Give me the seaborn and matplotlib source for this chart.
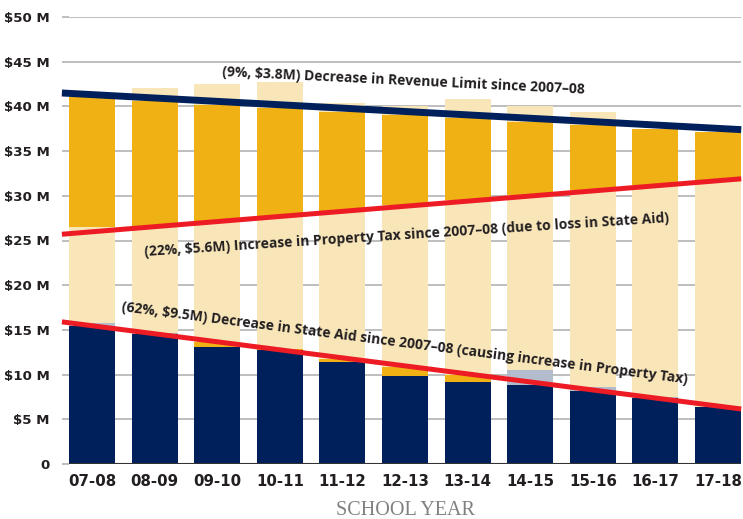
import matplotlib
matplotlib.use("Agg")
import matplotlib.pyplot as plt
import seaborn as sns

sns.set_theme(style="white")
plt.rcParams["font.family"] = ["DejaVu Sans"]

# values, in $M (cumulative tops of each stacked layer)
years = ["07-08", "08-09", "09-10", "10-11", "11-12", "12-13",
         "13-14", "14-15", "15-16", "16-17", "17-18"]
state_aid = [15.4, 14.5, 13.1, 12.7, 11.4, 9.8, 9.2, 8.8, 8.2, 7.4, 6.4]
grey_top = [15.8, 14.7, 13.1, 12.7, 11.4, 9.8, 9.2, 10.5, 8.65, 7.5, 6.4]
gold_low_top = [15.4, 14.5, 13.6, 12.9, 11.8, 10.9, 9.95, 8.8, 8.2, 7.4, 6.4]
prop_tax_top = [26.5, 26.6, 27.1, 27.7, 28.3, 29.0, 29.5, 30.1, 30.6, 31.2, 31.8]
limit_top = [41.0, 40.6, 40.2, 39.8, 39.4, 39.0, 38.7, 38.3, 37.9, 37.5, 37.1]
total_top = [41.0, 42.1, 42.5, 42.7, 40.4, 40.0, 40.8, 40.0, 39.4, 37.5, 37.1]

# trend lines (start / end of the plotted range)
trend_x = [-0.48, 10.37]
revenue_trend = [41.5, 37.4]
prop_tax_trend = [25.7, 31.9]
state_aid_trend = [15.9, 6.15]

NAVY = "#00205c"
GOLD = "#efb113"
CREAM = "#f8e6b9"
GREY = "#b3bccd"
RED = "#ed1c24"
TXT = "#231f20"

fig = plt.figure(figsize=(7.43, 5.19), dpi=100)
ax = fig.add_axes([69 / 743, 55 / 519, 672 / 743, 447 / 519])

bw = 0.733
layers = [(total_top, CREAM), (limit_top, GOLD), (prop_tax_top, CREAM),
          (grey_top, GREY), (gold_low_top, GOLD), (state_aid, NAVY)]
for vals, col in layers:
    sns.barplot(x=years, y=vals, color=col, saturation=1, width=bw,
                linewidth=0, ax=ax, zorder=2)

ax.plot(trend_x, prop_tax_trend, color=RED, lw=3.6, solid_capstyle="butt", clip_on=False, zorder=4)
ax.plot(trend_x, state_aid_trend, color=RED, lw=3.6, solid_capstyle="butt", clip_on=False, zorder=4)
ax.plot(trend_x, revenue_trend, color=NAVY, lw=5, solid_capstyle="butt", clip_on=False, zorder=5)

ax.set_xlim(-bw / 2, 10 + bw / 2)
ax.set_ylim(0, 50)
ax.set_yticks(range(0, 51, 5))
ax.set_yticklabels(["0"] + [f"${v} M" for v in range(5, 51, 5)])
for s in ax.spines.values():
    s.set_visible(False)
ax.yaxis.grid(True, color="#b9b9b9", lw=1.3, zorder=0)
ax.axhline(0, color="#333333", lw=1.5, zorder=3)
ax.tick_params(axis="y", length=5, width=1.3, color="#b9b9b9", pad=9,
               labelsize=9.6, labelcolor=TXT, left=True)
ax.tick_params(axis="x", length=0, pad=7, labelsize=10.8, labelcolor=TXT)
for lab in ax.get_yticklabels() + ax.get_xticklabels():
    lab.set_fontweight("bold")

ax.set_xlabel("SCHOOL YEAR", family="Liberation Serif", fontsize=14.5,
              color="#808080", labelpad=9)
ax.set_ylabel("")

kw = dict(family="Open Sans", fontsize=10, fontweight="bold", color=TXT,
          ha="left", va="center", rotation_mode="anchor", zorder=6)
ax.text(2.08, 43.8, "(9%, $3.8M) Decrease in Revenue Limit since 2007\u201308",
        rotation=-2.8, **kw)
ax.text(0.84, 23.7, "(22%, $5.6M) Increase in Property Tax since 2007\u201308 (due to loss in State Aid)",
        rotation=3.7, **kw)
ax.text(0.48, 17.6, "(62%, $9.5M) Decrease in State Aid since 2007\u201308 (causing increase in Property Tax)",
        rotation=-7.3, **kw)

fig.savefig("out.png", dpi=100)
